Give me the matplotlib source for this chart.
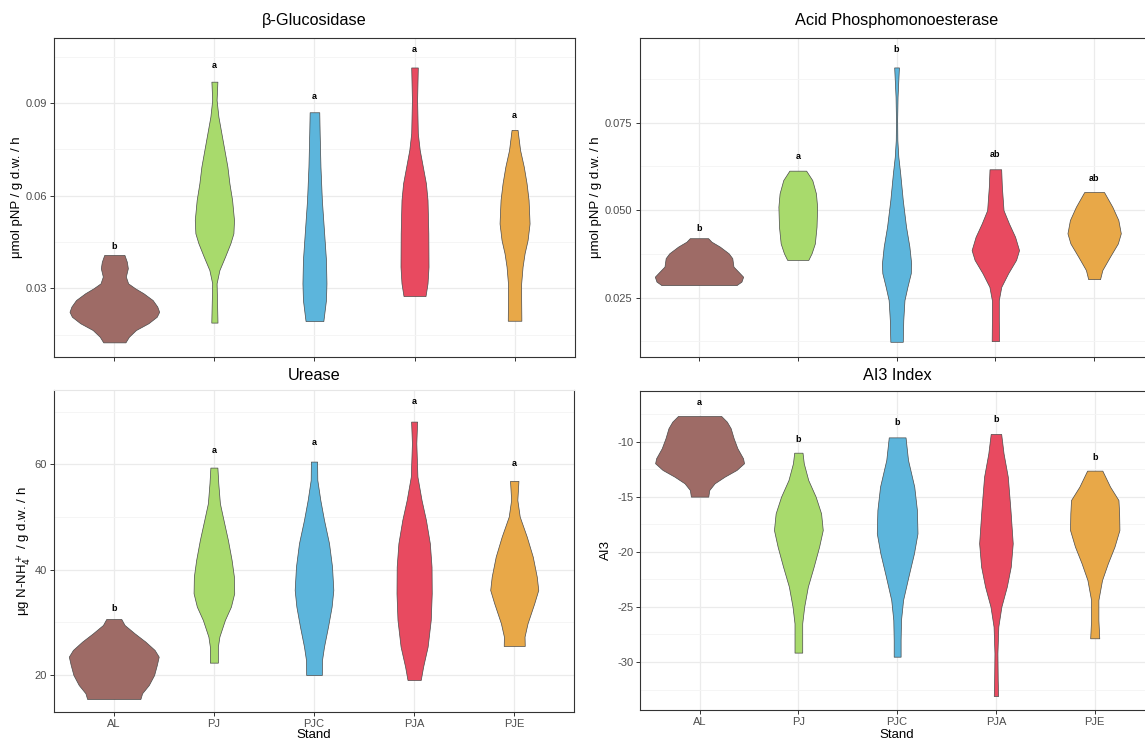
import numpy as np
import matplotlib
matplotlib.use("Agg")
import matplotlib.pyplot as plt

plt.rcParams['font.family'] = ['Liberation Sans', 'DejaVu Sans']
plt.rcParams['axes.unicode_minus'] = False

# ---------------- data ----------------
STANDS = ['AL', 'PJ', 'PJC', 'PJA', 'PJE']
COLORS = ['#9E6B66', '#A8DA6C', '#5CB5DC', '#E84A60', '#E8A848']

# Violin outlines: value levels and half-widths (category units)
GLU_Y = {
    'AL': [0.0408, 0.0386, 0.0365, 0.0338, 0.0316, 0.0300, 0.0284, 0.0262, 0.0241, 0.0224, 0.0208, 0.0187, 0.0165, 0.0143, 0.0125],
    'PJ': [0.0969, 0.0910, 0.0856, 0.0802, 0.0748, 0.0694, 0.0640, 0.0586, 0.0521, 0.0478, 0.0446, 0.0403, 0.0359, 0.0316, 0.0262, 0.0189],
    'PJC': [0.0870, 0.0802, 0.0694, 0.0586, 0.0478, 0.0392, 0.0316, 0.0262, 0.0194],
    'PJA': [0.1015, 0.0910, 0.0802, 0.0748, 0.0694, 0.0640, 0.0586, 0.0478, 0.0370, 0.0316, 0.0275],
    'PJE': [0.0813, 0.0748, 0.0694, 0.0640, 0.0586, 0.0510, 0.0456, 0.0413, 0.0370, 0.0316, 0.0262, 0.0195],
}
GLU_W = {
    'AL': [0.101, 0.125, 0.135, 0.115, 0.138, 0.208, 0.291, 0.383, 0.429, 0.448, 0.424, 0.341, 0.216, 0.145, 0.111],
    'PJ': [0.030, 0.022, 0.040, 0.070, 0.100, 0.130, 0.150, 0.177, 0.196, 0.190, 0.160, 0.107, 0.050, 0.022, 0.026, 0.031],
    'PJC': [0.048, 0.052, 0.060, 0.074, 0.097, 0.115, 0.120, 0.115, 0.089],
    'PJA': [0.033, 0.026, 0.033, 0.052, 0.083, 0.114, 0.130, 0.138, 0.140, 0.130, 0.110],
    'PJE': [0.030, 0.055, 0.092, 0.120, 0.140, 0.150, 0.130, 0.100, 0.080, 0.066, 0.066, 0.068],
}
GLU_LETTERS = ['b', 'a', 'a', 'a', 'a']
GLU_LETTER_Y = [0.0435, 0.1023, 0.0920, 0.1074, 0.0860]

ACP_Y = {
    'AL': [0.0420, 0.0410, 0.0396, 0.0377, 0.0363, 0.0339, 0.0324, 0.0310, 0.0296, 0.0286],
    'PJ': [0.0613, 0.0586, 0.0548, 0.0510, 0.0453, 0.0405, 0.0377, 0.0358],
    'PJC': [0.0908, 0.0824, 0.0758, 0.0700, 0.0653, 0.0605, 0.0529, 0.0453, 0.0396, 0.0348, 0.0320, 0.0281, 0.0243, 0.0186, 0.0124],
    'PJA': [0.0617, 0.0567, 0.0500, 0.0462, 0.0424, 0.0386, 0.0358, 0.0320, 0.0281, 0.0243, 0.0186, 0.0126],
    'PJE': [0.0552, 0.0510, 0.0472, 0.0434, 0.0405, 0.0367, 0.0329, 0.0303],
}
ACP_W = {
    'AL': [0.093, 0.127, 0.211, 0.300, 0.337, 0.349, 0.400, 0.447, 0.430, 0.380],
    'PJ': [0.085, 0.147, 0.184, 0.196, 0.190, 0.173, 0.140, 0.107],
    'PJC': [0.024, 0.010, 0.006, 0.008, 0.018, 0.037, 0.063, 0.096, 0.130, 0.148, 0.144, 0.110, 0.080, 0.068, 0.063],
    'PJA': [0.059, 0.066, 0.083, 0.138, 0.200, 0.240, 0.210, 0.130, 0.060, 0.035, 0.035, 0.037],
    'PJE': [0.100, 0.184, 0.245, 0.270, 0.240, 0.160, 0.083, 0.060],
}
ACP_LETTERS = ['b', 'a', 'b', 'ab', 'ab']
ACP_LETTER_Y = [0.0449, 0.0653, 0.0960, 0.0658, 0.0591]

URE_Y = {
    'AL': [30.63, 29.49, 27.91, 26.33, 24.75, 23.48, 21.90, 20.0, 18.10, 16.53, 15.44],
    'PJ': [59.37, 56.39, 52.59, 49.43, 45.63, 41.84, 38.67, 35.51, 32.97, 30.44, 27.28, 25.38, 22.34],
    'PJC': [60.51, 57.03, 53.23, 49.43, 45.0, 40.57, 36.14, 32.97, 29.18, 25.38, 22.85, 20.0],
    'PJA': [68.10, 63.99, 57.66, 53.23, 49.43, 45.0, 40.57, 35.51, 30.44, 25.38, 21.58, 19.05],
    'PJE': [56.84, 53.23, 50.06, 46.27, 42.47, 38.67, 36.14, 33.61, 29.81, 27.28, 25.51],
}
URE_W = {
    'AL': [0.075, 0.108, 0.208, 0.316, 0.408, 0.449, 0.430, 0.403, 0.350, 0.283, 0.266],
    'PJ': [0.035, 0.044, 0.060, 0.096, 0.140, 0.177, 0.200, 0.203, 0.170, 0.110, 0.055, 0.040, 0.040],
    'PJC': [0.031, 0.033, 0.063, 0.100, 0.150, 0.180, 0.193, 0.176, 0.140, 0.100, 0.080, 0.078],
    'PJA': [0.030, 0.022, 0.033, 0.074, 0.118, 0.157, 0.174, 0.176, 0.166, 0.135, 0.090, 0.066],
    'PJE': [0.042, 0.031, 0.055, 0.125, 0.185, 0.225, 0.240, 0.200, 0.133, 0.103, 0.105],
}
URE_LETTERS = ['b', 'a', 'a', 'a', 'a']
URE_LETTER_Y = [32.66, 62.6, 64.1, 72.0, 60.2]

AI3_Y = {
    'AL': [-7.67, -8.18, -8.78, -9.69, -10.60, -11.51, -11.96, -12.57, -13.18, -13.78, -14.39, -14.99],
    'PJ': [-11.0, -11.97, -13.48, -14.99, -16.51, -18.02, -19.53, -21.35, -23.16, -24.98, -26.49, -28.0, -29.15],
    'PJC': [-9.61, -11.66, -14.08, -16.20, -18.32, -20.14, -22.25, -24.37, -26.19, -28.0, -29.52],
    'PJA': [-9.30, -11.06, -13.18, -16.20, -19.23, -21.35, -23.16, -24.98, -26.79, -29.21, -31.63, -33.09],
    'PJE': [-12.63, -14.08, -15.30, -16.51, -18.02, -19.53, -21.04, -22.56, -24.37, -26.19, -27.85],
}
AI3_W = {
    'AL': [0.219, 0.276, 0.315, 0.345, 0.383, 0.440, 0.450, 0.374, 0.253, 0.152, 0.098, 0.088],
    'PJ': [0.042, 0.055, 0.10, 0.175, 0.23, 0.247, 0.21, 0.155, 0.096, 0.059, 0.039, 0.039, 0.039],
    'PJC': [0.085, 0.11, 0.173, 0.20, 0.206, 0.17, 0.114, 0.06, 0.039, 0.035, 0.035],
    'PJA': [0.053, 0.077, 0.12, 0.147, 0.17, 0.15, 0.11, 0.055, 0.024, 0.015, 0.018, 0.022],
    'PJE': [0.077, 0.155, 0.24, 0.247, 0.25, 0.20, 0.133, 0.074, 0.037, 0.037, 0.046],
}
AI3_LETTERS = ['a', 'b', 'b', 'b', 'b']
AI3_LETTER_Y = [-6.46, -9.79, -8.28, -8.03, -11.45]

# ---------------- layout ----------------
W, H = 1145, 740
fig = plt.figure(figsize=(W / 100, H / 100), dpi=100)

def add_axes_px(l, r, t, b):
    return fig.add_axes([l / W, 1 - b / H, (r - l) / W, (b - t) / H])

panels = [
    dict(box=(54.3, 574.6, 37.7, 356.7), ylim=(0.00786, 0.11114),
         major=[0.03, 0.06, 0.09], labels=['0.03', '0.06', '0.09'],
         minor=[0.015, 0.045, 0.075, 0.105],
         Y=GLU_Y, Wd=GLU_W, let=GLU_LETTERS, lety=GLU_LETTER_Y,
         title='β-Glucosidase', title_xy=(314.5, 20.5),
         ylabel='μmol pNP / g d.w. / h', ylab_xy=(17.5, 197), xlabels=False),
    dict(box=(639.7, 1153.4, 37.7, 356.7), ylim=(0.00814, 0.0993),
         major=[0.025, 0.050, 0.075], labels=['0.025', '0.050', '0.075'],
         minor=[0.0125, 0.0375, 0.0625, 0.0875],
         Y=ACP_Y, Wd=ACP_W, let=ACP_LETTERS, lety=ACP_LETTER_Y,
         title='Acid Phosphomonoesterase', title_xy=(896.6, 20.5),
         ylabel='μmol pNP / g d.w. / h', ylab_xy=(596, 197), xlabels=False),
    dict(box=(53.7, 574.3, 390, 711.7), ylim=(13.03, 74.1),
         major=[20, 40, 60], labels=['20', '40', '60'],
         minor=[30, 50, 70],
         Y=URE_Y, Wd=URE_W, let=URE_LETTERS, lety=URE_LETTER_Y,
         title='Urease', title_xy=(314, 376),
         ylabel=r'μg N-NH$_4^+$ / g d.w. / h', ylab_xy=(24, 551), xlabels=True),
    dict(box=(640.3, 1154, 391, 710), ylim=(-34.36, -5.40),
         major=[-30, -25, -20, -15, -10], labels=['-30', '-25', '-20', '-15', '-10'],
         minor=[-32.5, -27.5, -22.5, -17.5, -12.5, -7.5],
         Y=AI3_Y, Wd=AI3_W, let=AI3_LETTERS, lety=AI3_LETTER_Y,
         title='AI3 Index', title_xy=(897, 376),
         ylabel='AI3', ylab_xy=(606, 550), xlabels=True),
]

positions = np.arange(len(STANDS))

for k, p in enumerate(panels):
    ax = add_axes_px(*p['box'])
    ax.set_xlim(-0.6, len(STANDS) - 0.4)
    ax.set_ylim(*p['ylim'])
    ax.set_axisbelow(True)

    ax.set_yticks(p['major'])
    ax.set_yticklabels(p['labels'])
    ax.set_yticks(p['minor'], minor=True)
    ax.set_xticks(positions)
    if p['xlabels']:
        ax.set_xticklabels(STANDS)
    else:
        ax.set_xticklabels([])

    ax.grid(which='major', color='#EBEBEB', lw=0.9)
    ax.grid(which='minor', axis='y', color='#F4F4F4', lw=0.6)

    ax.tick_params(axis='both', which='major', length=2.9, width=0.7,
                   color='#333333', labelcolor='#4D4D4D', labelsize=8, pad=2.2)
    ax.tick_params(axis='both', which='minor', length=0)
    for s in ax.spines.values():
        s.set_color('#333333')
        s.set_linewidth(0.8)
    if k == 2:
        ax.spines['top'].set_color('#E6E6E6')

    # violins from the read outlines
    stats = []
    widths = []
    for st in STANDS:
        ys = np.array(p['Y'][st], dtype=float)
        ws = np.array(p['Wd'][st], dtype=float)
        stats.append(dict(coords=ys, vals=ws, mean=float(np.median(ys)),
                          median=float(np.median(ys)), min=ys.min(), max=ys.max()))
        widths.append(2 * ws.max())
    parts = ax.violin(stats, positions=positions, widths=widths,
                      showmeans=False, showextrema=False, showmedians=False)
    for body, col in zip(parts['bodies'], COLORS):
        body.set_facecolor(col)
        body.set_edgecolor('#4A4A4A')
        body.set_linewidth(0.5)
        body.set_alpha(1)
        body.set_zorder(2)

    for x, y, t in zip(positions, p['lety'], p['let']):
        ax.text(x, y, t, ha='center', va='center', fontsize=6.5,
                fontweight='bold', color='black', zorder=3)

    tx, ty = p['title_xy']
    fig.text(tx / W, 1 - ty / H, p['title'], ha='center', va='center',
             fontsize=11.7, color='black')
    lx, ly = p['ylab_xy']
    fig.text(lx / W, 1 - ly / H, p['ylabel'], ha='center', va='center',
             rotation=90, fontsize=9.5, color='black')
    if p['xlabels']:
        cx = (p['box'][0] + p['box'][1]) / 2
        fig.text(cx / W, 1 - 734.5 / H, 'Stand', ha='center', va='center',
                 fontsize=9.5, color='black')

fig.savefig('out.png', dpi=100, facecolor='white')
